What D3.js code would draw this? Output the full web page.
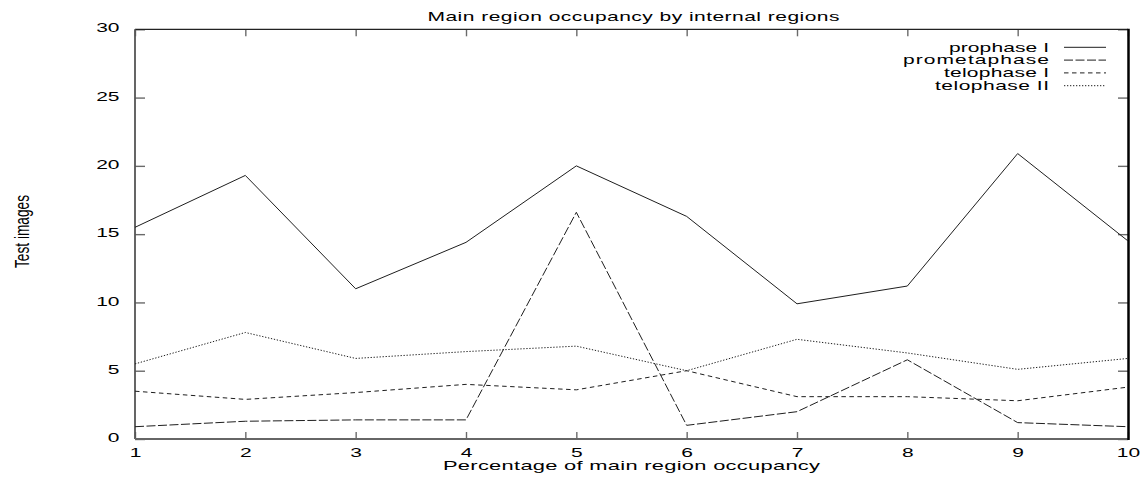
<!DOCTYPE html>
<html>
<head>
<meta charset="utf-8">
<script src="https://cdn.jsdelivr.net/npm/d3@7"></script>
<style>
  html, body { margin: 0; padding: 0; background: #fff; }
  svg { display: block; }
  text { font-family: "Liberation Sans", Arial, Helvetica, sans-serif; fill: #000; }
</style>
</head>
<body>
<svg id="chart" width="1147" height="477"></svg>
<script>
// Occupancy values per phase, one entry per percentage bucket
const xValues = [1, 2, 3, 4, 5, 6, 7, 8, 9, 10];
const prophaseI = [15.5, 19.3, 11.0, 14.4, 20.0, 16.3, 9.9, 11.2, 20.9, 14.5];
const prometaphase = [0.9, 1.3, 1.4, 1.4, 16.6, 1.0, 2.0, 5.8, 1.2, 0.9];
const telophaseI = [3.5, 2.9, 3.4, 4.0, 3.6, 5.0, 3.1, 3.1, 2.8, 3.8];
const telophaseII = [5.5, 7.8, 5.9, 6.4, 6.8, 5.0, 7.3, 6.3, 5.1, 5.9];

const seriesNames = ["prophase I", "prometaphase", "telophase I", "telophase II"];
const yTickValues = [0, 5, 10, 15, 20, 25, 30];
const xTickValues = [1, 2, 3, 4, 5, 6, 7, 8, 9, 10];

const titleText = "Main region occupancy by internal regions";
const xLabelText = "Percentage of main region occupancy";
const yLabelText = "Test images";

const series = [
  { name: seriesNames[0], values: prophaseI,    dash: null },
  { name: seriesNames[1], values: prometaphase, dash: "9,2.5" },
  { name: seriesNames[2], values: telophaseI,   dash: "4.5,3.5" },
  { name: seriesNames[3], values: telophaseII,  dash: "1.3,1.7" }
];

const svg = d3.select("#chart");

const x = d3.scaleLinear().domain([1, 10]).range([135, 1128]);
const y = d3.scaleLinear().domain([0, 30]).range([439, 29.3]);

const STRETCH = 1.75;

// Horizontally widened text, optionally fitted to an exact width
function wideText(parent, opts) {
  const sx = opts.sx || STRETCH;
  const t = parent.append("text")
    .attr("transform", `translate(${opts.x},${opts.y}) scale(${sx},1)`)
    .attr("text-anchor", opts.anchor || "start")
    .attr("font-size", opts.size || 12)
    .text(opts.text);
  if (opts.width) {
    t.attr("textLength", opts.width / sx).attr("lengthAdjust", "spacing");
  }
  return t;
}

// Axes with inward-pointing ticks on all four sides
const tickColor = "#6a6a6a";

const gLeft = svg.append("g").attr("transform", `translate(${x.range()[0]},0)`)
  .call(d3.axisLeft(y).tickValues(yTickValues).tickSize(-10).tickPadding(16).tickFormat(d3.format("d")));
const gBottom = svg.append("g").attr("transform", `translate(0,${y.range()[0]})`)
  .call(d3.axisBottom(x).tickValues(xTickValues).tickSize(-7).tickPadding(9).tickFormat(d3.format("d")));
const gRight = svg.append("g").attr("transform", `translate(${x.range()[1]},0)`)
  .call(d3.axisRight(y).tickValues(yTickValues).tickSize(-10).tickFormat(""));
const gTop = svg.append("g").attr("transform", `translate(0,${y.range()[1]})`)
  .call(d3.axisTop(x).tickValues(xTickValues).tickSize(-7).tickFormat(""));

[gLeft, gBottom, gRight, gTop].forEach(g => {
  g.select(".domain").remove();
  g.selectAll(".tick line").attr("stroke", tickColor).attr("stroke-width", 1.4);
  g.attr("font-family", null).attr("font-size", null);
});

// Widen the tick labels in place
gLeft.selectAll(".tick text").each(function () {
  const t = d3.select(this);
  const tx = +t.attr("x");
  t.attr("x", 0).attr("dy", "0.3em").attr("font-size", 12).attr("fill", "#000")
    .attr("transform", `translate(${tx + 0.5},-1) scale(${STRETCH},1)`);
});
gBottom.selectAll(".tick text").each(function () {
  const t = d3.select(this);
  const ty = +t.attr("y");
  t.attr("y", 0).attr("font-size", 12).attr("fill", "#000")
    .attr("transform", `translate(0,${ty}) scale(${STRETCH},1)`);
});

// Frame
const [x0, x1] = x.range();
const [yb, yt] = y.range();
svg.append("line").attr("x1", x0).attr("x2", x1).attr("y1", yt).attr("y2", yt)
  .attr("stroke", "#222").attr("stroke-width", 1.3);
svg.append("line").attr("x1", x0).attr("x2", x0).attr("y1", yt).attr("y2", yb)
  .attr("stroke", "#555").attr("stroke-width", 1.8);
svg.append("line").attr("x1", x0).attr("x2", x1 + 1).attr("y1", yb).attr("y2", yb)
  .attr("stroke", "#666").attr("stroke-width", 2);
svg.append("line").attr("x1", x1 + 0.5).attr("x2", x1 + 0.5).attr("y1", yt - 0.6).attr("y2", yb + 1)
  .attr("stroke", "#000").attr("stroke-width", 2.5);

// Data lines
const line = d3.line()
  .x((d, i) => x(xValues[i]))
  .y(d => y(d));

const plot = svg.append("g");
series.forEach(s => {
  plot.append("path")
    .datum(s.values)
    .attr("d", line)
    .attr("fill", "none")
    .attr("stroke", "#1e1e1e")
    .attr("stroke-width", 1)
    .attr("stroke-dasharray", s.dash);
});

// Legend
const legendWidths = [100, 146, 105, 114];
const legend = svg.append("g");
series.forEach((s, i) => {
  const ly = 47.3 + i * 12.8;
  wideText(legend, { x: 1049, y: ly + 4.3, text: s.name, anchor: "end", size: 12, width: legendWidths[i] });
  legend.append("line")
    .attr("x1", 1064).attr("x2", 1106).attr("y1", ly).attr("y2", ly)
    .attr("stroke", "#1e1e1e").attr("stroke-width", 1)
    .attr("stroke-dasharray", s.dash);
});

// Titles
wideText(svg, { x: 633.5, y: 21, text: titleText, anchor: "middle", size: 12, width: 412 });
wideText(svg, { x: 631.5, y: 470, text: xLabelText, anchor: "middle", size: 12.5, width: 377 });

svg.append("text")
  .attr("transform", "translate(28.5,231.5) scale(1.6,1) rotate(-90)")
  .attr("text-anchor", "middle")
  .attr("font-size", 13)
  .attr("textLength", 73)
  .attr("lengthAdjust", "spacingAndGlyphs")
  .text(yLabelText);
</script>
</body>
</html>
